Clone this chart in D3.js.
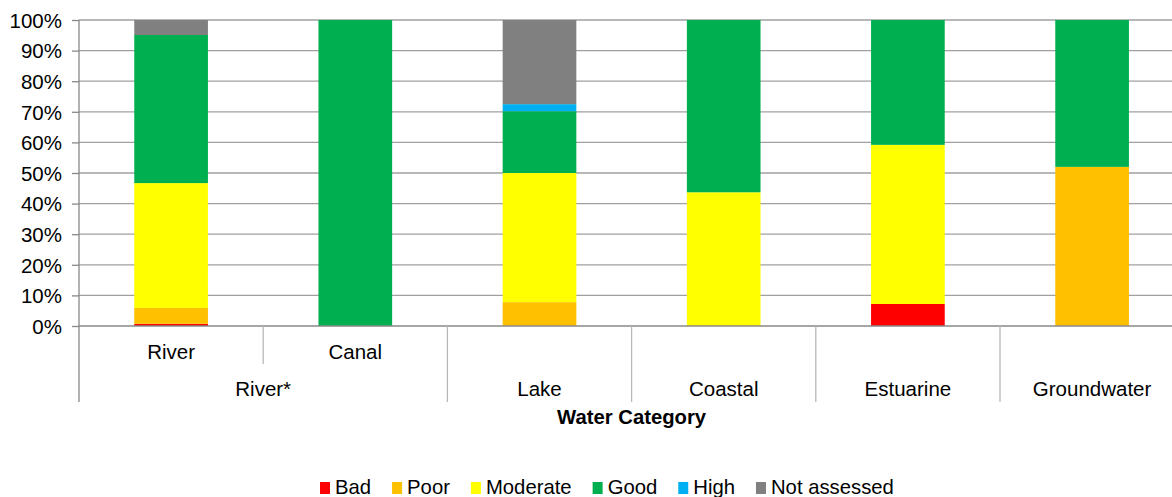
<!DOCTYPE html>
<html>
<head>
<meta charset="utf-8">
<script src="https://cdn.jsdelivr.net/npm/d3@7"></script>
<style>
  html, body { margin: 0; padding: 0; background: #fff; }
  svg { display: block; font-family: "Liberation Sans", Arial, sans-serif; }
</style>
</head>
<body>
<svg id="chart" width="1172" height="497"></svg>
<script>
// ---- Data ----
const categories = ["River", "Canal", "Lake", "Coastal", "Estuarine", "Groundwater"];
const subLabels  = ["River", "Canal", "", "", "", ""];
const groupLabels = ["River*", "River*", "Lake", "Coastal", "Estuarine", "Groundwater"];
const seriesNames = ["Bad", "Poor", "Moderate", "Good", "High", "Not assessed"];
const seriesColors = ["#FF0000", "#FFC000", "#FFFF00", "#00B050", "#00B0F0", "#808080"];
const bad         = [0.7, 0,   0,    0,    7.2,  0];
const poor        = [5.2, 0,   7.8,  0,    0,    52.0];
const moderate    = [40.8, 0,  42.2, 43.7, 52.0, 0];
const good        = [48.4, 100, 20.2, 56.3, 40.8, 48.0];
const high        = [0,   0,   2.3,  0,    0,    0];
const notAssessed = [4.9, 0,   27.5, 0,    0,    0];
const yTicks = [0, 10, 20, 30, 40, 50, 60, 70, 80, 90, 100];
const axisTitle = "Water Category";

(function () {
const seriesValues = [bad, poor, moderate, good, high, notAssessed];
const rows = categories.map((c, i) => {
  const r = { cat: c };
  seriesNames.forEach((s, j) => r[s] = seriesValues[j][i]);
  return r;
});

// ---- Layout ----
const svg = d3.select("#chart");
const mLeft = 79, mRight = 1184.2, mTop = 20, mBottom = 326;
const x = d3.scaleBand().domain(categories).range([mLeft, mRight]).paddingInner(0.6).paddingOuter(0.3);
const y = d3.scaleLinear().domain([0, 100]).range([mBottom, mTop]);
const step = x.step();
const color = d3.scaleOrdinal().domain(seriesNames).range(seriesColors);

// gridlines
svg.append("g").selectAll("line").data(yTicks.filter(t => t > 0)).join("line")
  .attr("x1", mLeft).attr("x2", 1172)
  .attr("y1", d => y(d)).attr("y2", d => y(d))
  .attr("stroke", "#a0a0a0").attr("stroke-width", 1.3);

// stacked bars
const stacked = d3.stack().keys(seriesNames)(rows);
svg.append("g").selectAll("g").data(stacked).join("g")
  .attr("fill", d => color(d.key))
  .selectAll("rect").data(d => d).join("rect")
  .attr("x", d => x(d.data.cat))
  .attr("width", x.bandwidth())
  .attr("y", d => y(d[1]))
  .attr("height", d => Math.max(0, y(d[0]) - y(d[1])));

// y axis
const yAxis = d3.axisLeft(y).tickValues(yTicks).tickSize(7).tickFormat(d => d + "%");
const ya = svg.append("g").attr("transform", `translate(${mLeft},0)`).call(yAxis);
ya.select(".domain").remove();
ya.selectAll(".tick line").attr("stroke", "#888").attr("stroke-width", 1.3);
ya.selectAll(".tick text").attr("x", -17).attr("dy", "0.36em")
  .attr("font-size", "20.5px").attr("fill", "#000")
  .attr("font-family", "Liberation Sans, Arial, sans-serif");
svg.append("line").attr("x1", mLeft).attr("x2", mLeft).attr("y1", mTop).attr("y2", 402)
  .attr("stroke", "#888").attr("stroke-width", 1.3);
svg.append("line").attr("x1", mLeft).attr("x2", 1172).attr("y1", mBottom).attr("y2", mBottom)
  .attr("stroke", "#888").attr("stroke-width", 1.5);

// category separators
const sepG = svg.append("g");
categories.forEach((c, i) => {
  const xs = mLeft + (i + 1) * step;
  const short = i + 1 < categories.length && groupLabels[i] === groupLabels[i + 1];
  sepG.append("line").attr("x1", xs).attr("x2", xs).attr("y1", mBottom)
    .attr("y2", short ? 364 : 402)
    .attr("stroke", "#b8b8b8").attr("stroke-width", 1.3);
});

// sub labels
svg.append("g").selectAll("text").data(categories.map((c, i) => ({ c, s: subLabels[i] })).filter(d => d.s))
  .join("text")
  .attr("x", d => x(d.c) + x.bandwidth() / 2)
  .attr("y", 359)
  .attr("text-anchor", "middle").attr("font-size", "20.5px")
  .text(d => d.s);

// group labels
const groups = [];
groupLabels.forEach((g, i) => {
  const last = groups[groups.length - 1];
  if (last && last.label === g) last.end = i; else groups.push({ label: g, start: i, end: i });
});
svg.append("g").selectAll("text").data(groups).join("text")
  .attr("x", d => mLeft + (d.start + d.end + 1) / 2 * step)
  .attr("y", 396)
  .attr("text-anchor", "middle").attr("font-size", "20.5px")
  .text(d => d.label);

// axis title
svg.append("text").attr("x", (mLeft + mRight) / 2).attr("y", 424)
  .attr("text-anchor", "middle").attr("font-size", "20.3px").attr("font-weight", "bold")
  .text(axisTitle);

// legend
const lg = svg.append("g");
let lx = 320;
seriesNames.forEach((s, i) => {
  lg.append("rect").attr("x", lx).attr("y", 482).attr("width", 10).attr("height", 12)
    .attr("fill", seriesColors[i]);
  const t = lg.append("text").attr("x", lx + 15).attr("y", 494).attr("font-size", "20.3px").text(s);
  lx += 15 + t.node().getComputedTextLength() + 21;
});
})();
</script>
</body>
</html>
